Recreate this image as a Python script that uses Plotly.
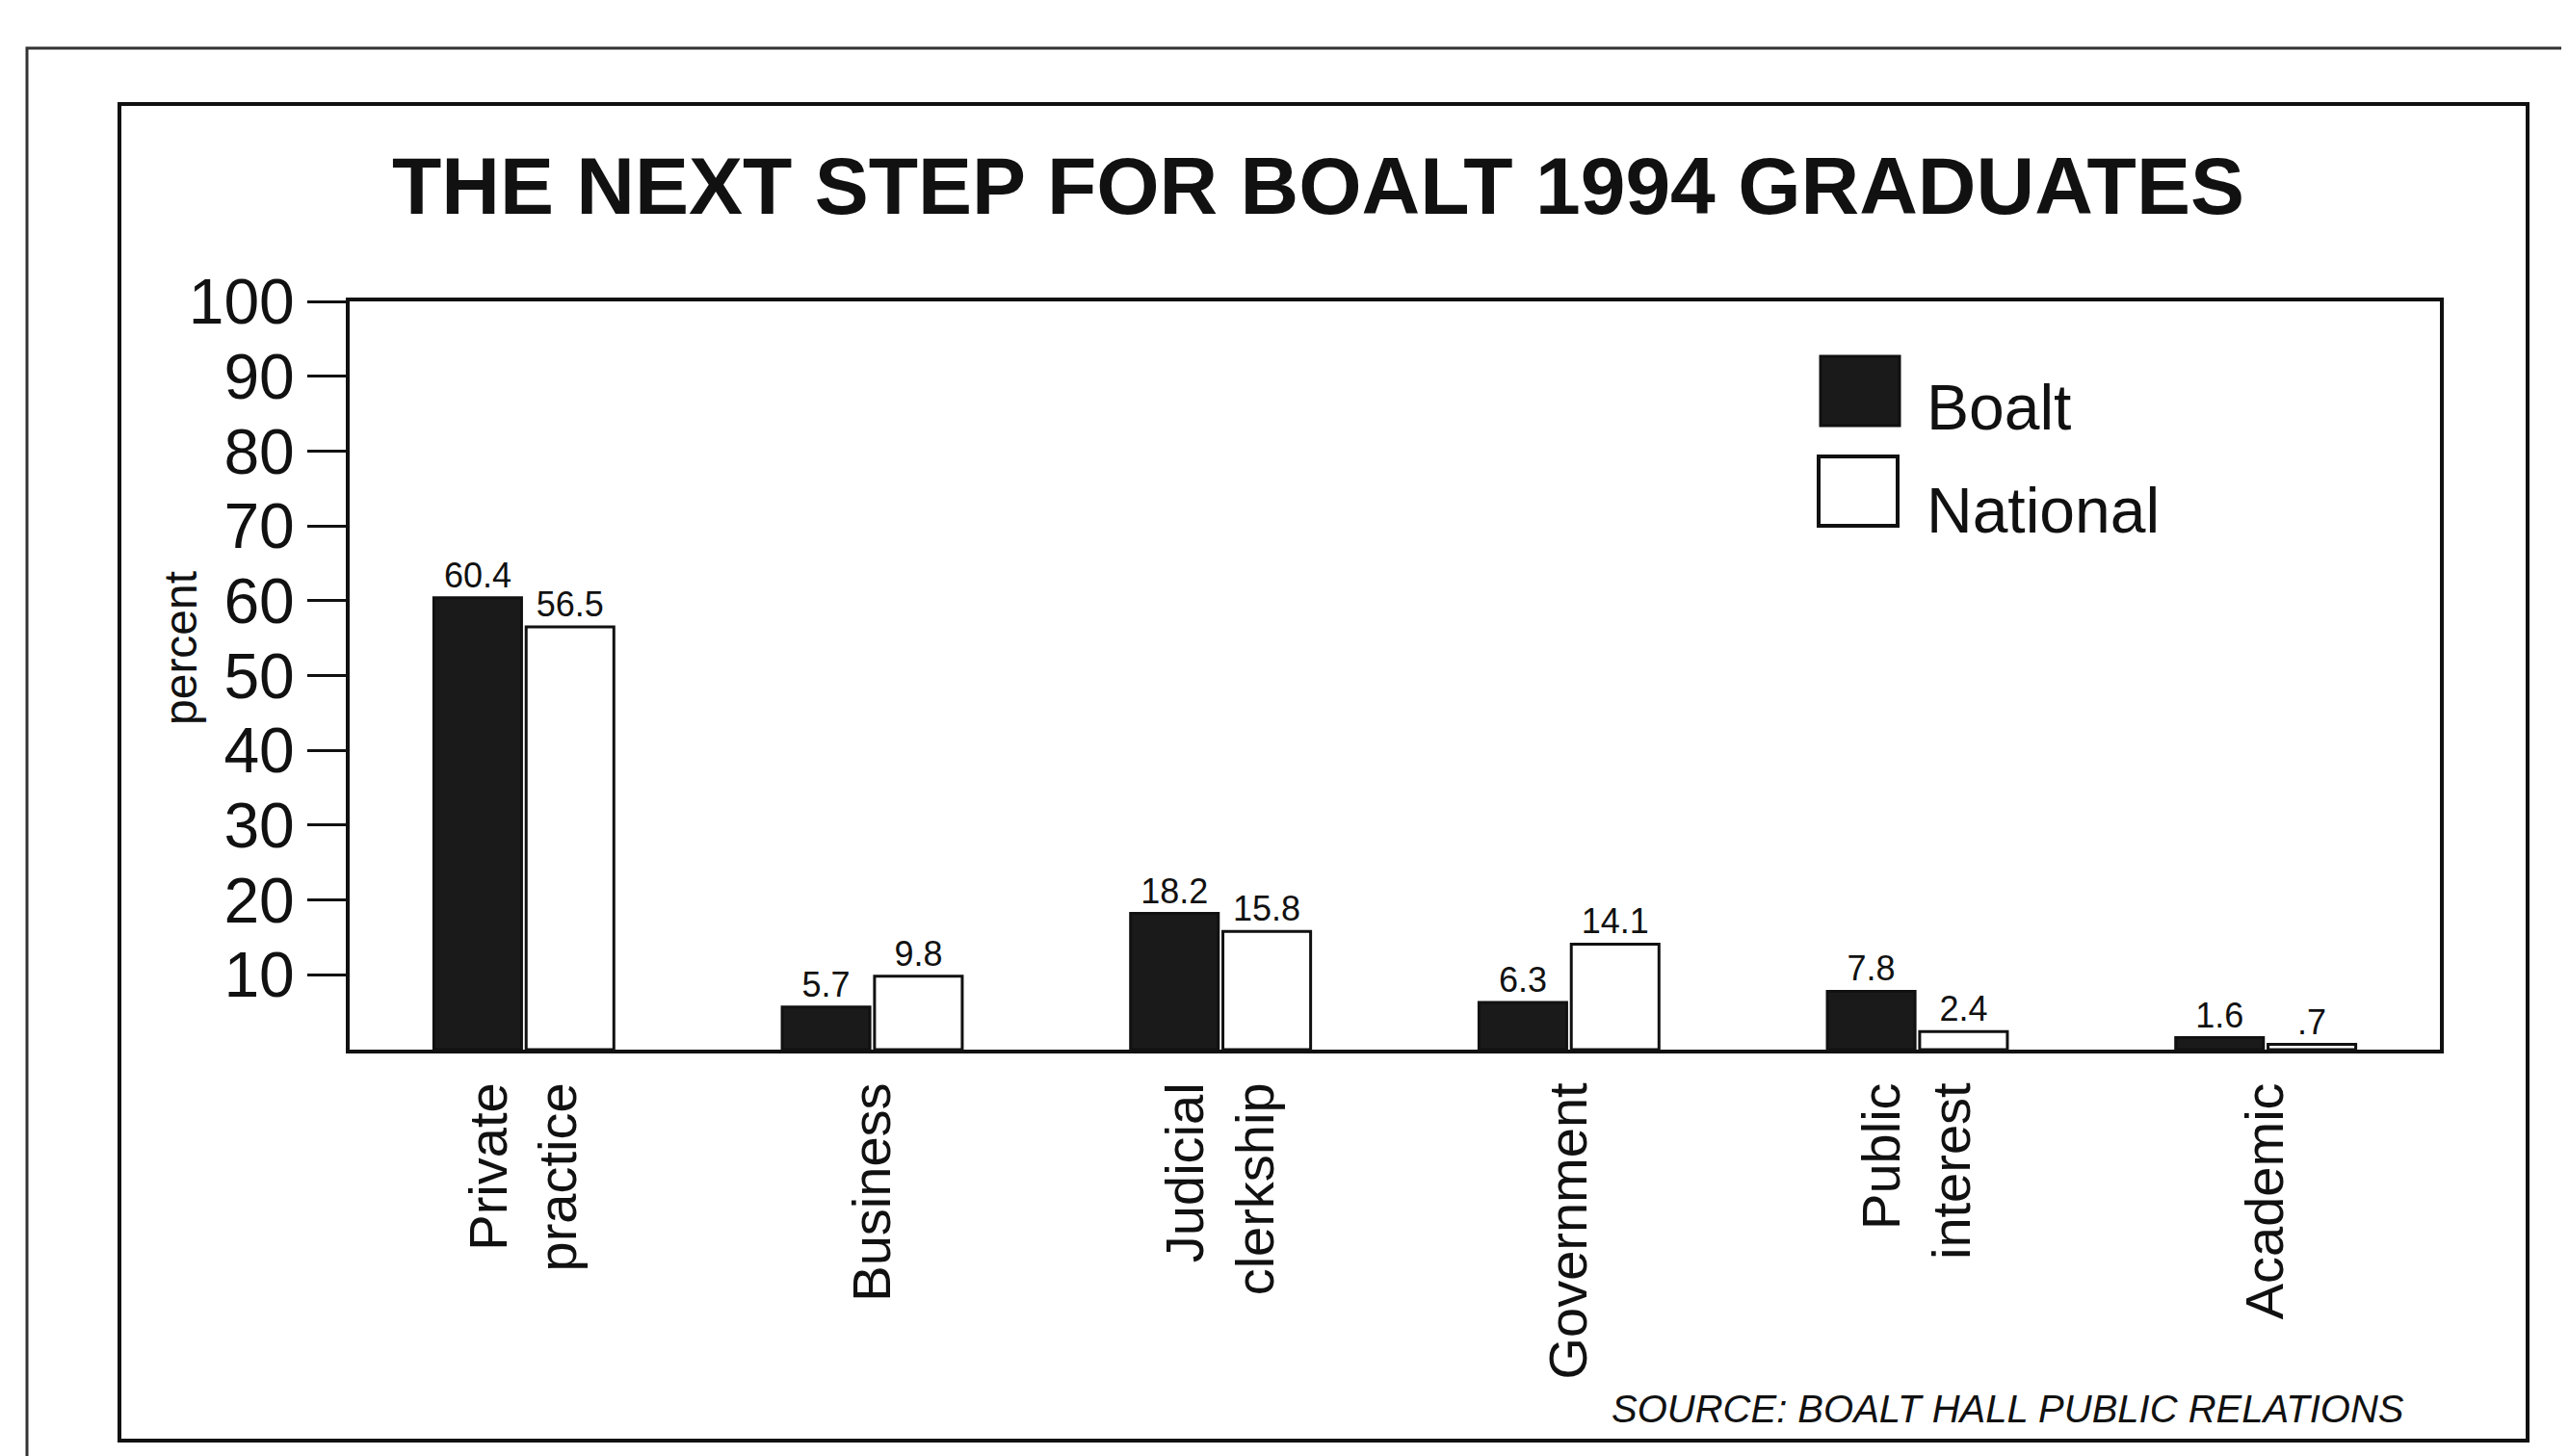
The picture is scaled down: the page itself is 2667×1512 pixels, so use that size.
import plotly.graph_objects as go

categories = ["Private<br>practice", "Business", "Judicial<br>clerkship", "Government", "Public<br>interest", "Academic"]
boalt = [60.4, 5.7, 18.2, 6.3, 7.8, 1.6]
national = [56.5, 9.8, 15.8, 14.1, 2.4, 0.7]
y_ticks = [10, 20, 30, 40, 50, 60, 70, 80, 90, 100]

W, H = 2667, 1512
L, R, T, B = 355, 2525, 305, 1082
PW, PH = R - L, B - T


def px(x):
    return (x - L) / PW


def py(y):
    return (B - y) / PH


def label(v):
    s = f"{v:g}"
    return s[1:] if s.startswith("0.") else s


FONT = "Liberation Sans, Arial, Helvetica, sans-serif"

fig = go.Figure()
fig.add_trace(go.Bar(
    name="Boalt", x=categories, y=boalt,
    marker=dict(color="#1a1a1a", line=dict(color="#111", width=3)),
    text=[label(v) for v in boalt], textposition="outside",
    textfont=dict(size=36, color="#111", family=FONT), cliponaxis=False,
))
fig.add_trace(go.Bar(
    name="National", x=categories, y=national,
    marker=dict(color="white", line=dict(color="#111", width=3)),
    text=[label(v) for v in national], textposition="outside",
    textfont=dict(size=36, color="#111", family=FONT), cliponaxis=False,
))

shapes = [
    # inner frame
    dict(type="rect", xref="paper", yref="paper", x0=px(116), x1=px(2616), y0=py(1488), y1=py(100),
         line=dict(color="#111", width=4), layer="below"),
    # outer frame (scan edge)
    dict(type="rect", xref="paper", yref="paper", x0=px(20), x1=px(2700), y0=py(1560), y1=py(42),
         line=dict(color="#333", width=3), layer="below"),
    # legend swatches
    dict(type="rect", xref="paper", yref="paper", x0=px(1882), x1=px(1964), y0=py(434), y1=py(362),
         fillcolor="#1a1a1a", line=dict(color="#111", width=3)),
    dict(type="rect", xref="paper", yref="paper", x0=px(1880), x1=px(1962), y0=py(538), y1=py(466),
         fillcolor="white", line=dict(color="#111", width=4)),
]

annotations = [
    dict(text="<b>THE NEXT STEP FOR BOALT 1994 GRADUATES</b>", xref="paper", yref="paper",
         x=px(1360), y=py(185), xanchor="center", yanchor="middle", showarrow=False,
         font=dict(size=84, color="#111", family=FONT)),
    dict(text="Boalt", xref="paper", yref="paper", x=px(1990), y=py(415), xanchor="left", yanchor="middle",
         showarrow=False, font=dict(size=66, color="#111", family=FONT)),
    dict(text="National", xref="paper", yref="paper", x=px(1990), y=py(522), xanchor="left", yanchor="middle",
         showarrow=False, font=dict(size=66, color="#111", family=FONT)),
    dict(text="percent", xref="paper", yref="paper", x=px(179), y=py(665), xanchor="center", yanchor="middle",
         textangle=-90, showarrow=False, font=dict(size=48, color="#111", family=FONT)),
    dict(text="<i>SOURCE: BOALT HALL PUBLIC RELATIONS</i>", xref="paper", yref="paper",
         x=px(2490), y=py(1455), xanchor="right", yanchor="middle", showarrow=False,
         font=dict(size=40, color="#111", family=FONT)),
]

fig.update_layout(
    width=W, height=H,
    margin=dict(l=L, r=W - R, t=T, b=H - B, autoexpand=False),
    paper_bgcolor="white", plot_bgcolor="white",
    barmode="group", bargap=0.47, bargroupgap=0.05,
    showlegend=False,
    font=dict(family=FONT, color="#111"),
    shapes=shapes, annotations=annotations,
)
fig.update_yaxes(
    range=[0, 100], tickvals=y_ticks, ticktext=[str(v) for v in y_ticks],
    ticks="outside", ticklen=40, tickwidth=3, tickcolor="#111",
    showline=True, linewidth=4, linecolor="#111", mirror=True,
    showgrid=False, zeroline=False,
    tickfont=dict(size=66, color="#111", family=FONT),
)
fig.update_xaxes(
    tickangle=-90, ticks="", showline=True, linewidth=4, linecolor="#111", mirror=True,
    showgrid=False, ticklabelstandoff=8,
    tickfont=dict(size=56, color="#111", family=FONT),
)

fig.write_html("out.html")
